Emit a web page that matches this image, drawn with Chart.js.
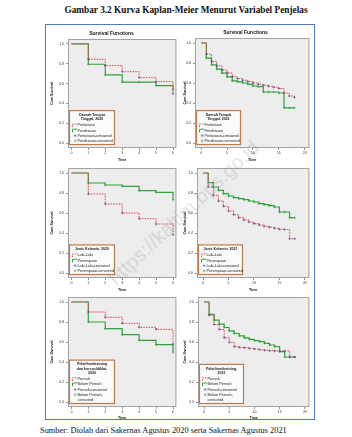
<!DOCTYPE html>
<html>
<head>
<meta charset="utf-8">
<script src="https://cdn.jsdelivr.net/npm/chart.js@4.4.1/dist/chart.umd.min.js"></script>
<style>
  html, body { margin: 0; padding: 0; background: #fff; }
  body { width: 352px; height: 437px; position: relative; overflow: hidden; font-family: "Liberation Sans", Arial, sans-serif; }
  #ttl { position: absolute; left: 0; width: 372px; top: 5px; text-align: center; font: bold 9.3px "Liberation Serif", "Times New Roman", serif; color: #111; white-space: nowrap; }
  #frame { position: absolute; left: 45px; top: 24px; width: 268px; height: 394px; border: 1.5px solid #4f78c8; }
  #src { position: absolute; left: 40px; top: 426px; font: 8.4px "Liberation Serif", "Times New Roman", serif; color: #111; white-space: nowrap; }
  canvas { position: absolute; }
  #wm { position: absolute; left: 112px; top: 270px; font: 20px "Liberation Sans", Arial, sans-serif; color: rgba(110,110,110,0.2);
        transform: rotate(-43.5deg); transform-origin: 0 50%; white-space: nowrap; pointer-events: none; }
</style>
</head>
<body>
<div id="ttl">Gambar 3.2 Kurva Kaplan-Meier Menurut Variabel Penjelas</div>
<div id="frame"></div>
<div id="src">Sumber: Diolah dari Sakernas Agustus 2020 serta Sakernas Agustus 2021</div>
<script>
/* Kaplan-Meier grid: six small step charts, legend box drawn inside each plot. */

// time points (months)
const T2020 = [0, 1, 2, 3, 4, 5, 6];
const T2021 = [0, 1, 2, 3, 4, 5, 6, 7, 8, 9, 10, 11, 12, 13, 14, 15, 16, 17, 18];

// tick labels
const X_TICKS_2020 = [0, 1, 2, 3, 4, 5, 6];
const X_TICKS_2021 = [0, 5, 10, 15, 20];
const Y_TICKS = [0, 0.2, 0.4, 0.6, 0.8, 1.0];

// Daerah tempat tinggal
const kota2020 = [1, 0.846, 0.782, 0.72, 0.66, 0.62, 0.50];
const desa2020 = [1, 0.795, 0.688, 0.614, 0.614, 0.58, 0.537];
const kota2021 = [1, 0.889, 0.815, 0.772, 0.73, 0.70, 0.664, 0.644, 0.628, 0.614, 0.60, 0.587, 0.577, 0.567, 0.557, 0.545, 0.50, 0.47, 0.455];
const desa2021 = [1, 0.849, 0.782, 0.738, 0.698, 0.661, 0.621, 0.611, 0.60, 0.587, 0.57, 0.564, 0.51, 0.51, 0.51, 0.50, 0.352, 0.352, 0.352];

// Jenis kelamin
const laki2020 = [1, 0.79, 0.69, 0.60, 0.543, 0.49, 0.383];
const perem2020 = [1, 0.90, 0.88, 0.867, 0.823, 0.807, 0.733];
const laki2021 = [1, 0.86, 0.777, 0.72, 0.667, 0.62, 0.583, 0.553, 0.53, 0.51, 0.493, 0.48, 0.467, 0.457, 0.447, 0.437, 0.435, 0.343, 0.343];
const perem2021 = [1, 0.903, 0.86, 0.827, 0.793, 0.77, 0.753, 0.743, 0.733, 0.72, 0.71, 0.693, 0.683, 0.673, 0.66, 0.61, 0.61, 0.553, 0.553];

// Pelatihan
const pernah2020 = [1, 0.90, 0.847, 0.787, 0.747, 0.727, 0.58];
const belum2020 = [1, 0.80, 0.733, 0.673, 0.617, 0.573, 0.497];
const pernah2021 = [1, 0.868, 0.775, 0.725, 0.642, 0.596, 0.553, 0.546, 0.543, 0.536, 0.53, 0.523, 0.517, 0.513, 0.51, 0.51, 0.51, 0.45, 0.45];
const belum2021 = [1, 0.877, 0.818, 0.778, 0.745, 0.712, 0.685, 0.662, 0.642, 0.626, 0.613, 0.603, 0.586, 0.57, 0.553, 0.503, 0.45, 0.45, 0.45];

const RED = "#e2474f", GREEN = "#2ea43a", BLUE = "#45459a";
const FAM = "'Liberation Sans', Arial, sans-serif";

// panel placement: canvas box + plot area [left, top, right, bottom]
const PANELS = {
  p1: { x: 46,  y: 24,  w: 135, h: 140, plot: [68, 39, 177, 148],  ytPad: 3.5, head: true },
  p2: { x: 181, y: 24,  w: 133, h: 140, plot: [195, 38, 310, 148], ytPad: 2,   head: true },
  p3: { x: 46,  y: 160, w: 135, h: 134, plot: [68, 168, 177, 278], ytPad: 3.5 },
  p4: { x: 181, y: 160, w: 133, h: 134, plot: [197, 168, 310, 278], ytPad: 2 },
  p5: { x: 46,  y: 289, w: 135, h: 133, plot: [68, 297, 177, 407], ytPad: 3.5 },
  p6: { x: 181, y: 289, w: 133, h: 133, plot: [198, 297, 311, 407], ytPad: 2 }
};

const plotBg = {
  id: "plotBg",
  beforeDraw(c) {
    const a = c.chartArea, ctx = c.ctx;
    ctx.save();
    ctx.fillStyle = "#ededed";
    ctx.fillRect(a.left, a.top, a.width, a.height);
    ctx.strokeStyle = "#a3a3a3"; ctx.lineWidth = 1;
    ctx.strokeRect(a.left + 0.5, a.top + 0.5, a.width - 1, a.height - 1);
    ctx.restore();
  }
};

// SPSS-like legend box in the lower-left corner of the plot
const kmLegend = {
  id: "kmLegend",
  afterDatasetsDraw(c, args, o) {
    const a = c.chartArea, ctx = c.ctx;
    const th = 4.3, lh = 5.2;
    const rows = [];
    c.data.datasets.forEach(d => String(d.label).split("\n").forEach((s, k) => rows.push({ d, s, first: k === 0 })));
    const h = 2 + o.title.length * th + 1.5 + rows.length * lh + 1;
    const x = a.left + 1.5, y = a.bottom - o.bottom - h;
    ctx.save();
    ctx.fillStyle = "#fbfbfb"; ctx.fillRect(x, y, o.width, h);
    ctx.strokeStyle = "#c27a45"; ctx.lineWidth = 1.2; ctx.strokeRect(x, y, o.width, h);
    ctx.fillStyle = "#1a1a1a"; ctx.textAlign = "center"; ctx.textBaseline = "middle";
    ctx.font = "bold 3.6px " + FAM;
    o.title.forEach((s, i) => ctx.fillText(s, x + o.width / 2, y + 2 + th * (i + 0.5)));
    ctx.textAlign = "left"; ctx.font = "3.8px " + FAM;
    rows.forEach((r, i) => {
      const cy = y + 2 + o.title.length * th + 1.5 + lh * (i + 0.5);
      if (r.first) {
        const sx = x + 3;
        ctx.strokeStyle = r.d.borderColor; ctx.lineWidth = r.d.showLine === false ? 0.6 : 1;
        ctx.setLineDash(r.d.borderDash || []);
        ctx.beginPath();
        if (r.d.showLine === false) {
          ctx.moveTo(sx + 2.6, cy - 1.4); ctx.lineTo(sx + 2.6, cy + 1.4);
          ctx.moveTo(sx + 1.2, cy); ctx.lineTo(sx + 4, cy);
        } else {
          ctx.moveTo(sx, cy + 1.8); ctx.lineTo(sx, cy - 1.3); ctx.lineTo(sx + 4.5, cy - 1.3);
        }
        ctx.stroke(); ctx.setLineDash([]);
      }
      ctx.fillStyle = "#1a1a1a";
      ctx.fillText(r.s, x + 8, cy);
    });
    ctx.restore();
  }
};

function step(times, s) { return times.map((t, i) => ({ x: t, y: s[i] })); }
function cens(times, s) { return times.slice(1).map((t, i) => ({ x: t, y: s[i + 1] })); }

function km(id, times, xTicks, xRange, sA, sB, names, legTitle) {
  const p = PANELS[id];
  const cv = document.createElement("canvas");
  cv.id = id; cv.width = p.w; cv.height = p.h;
  cv.style.left = p.x + "px"; cv.style.top = p.y + "px";
  document.body.appendChild(cv);
  const [pl, pt, pr, pb] = p.plot;
  const headH = p.head ? 14 : 0;
  new Chart(cv.getContext("2d"), {
    type: "line",
    data: { datasets: [
      { label: names[0], data: step(times, sA), stepped: true, borderColor: RED, borderDash: [1.6, 1.1], borderWidth: 1, pointRadius: 0, order: 1 },
      { label: names[1], data: step(times, sB), stepped: true, borderColor: GREEN, borderWidth: 1.2, pointRadius: 0, order: 2 },
      { label: names[2], data: cens(times, sA), showLine: false, pointStyle: "cross", pointRadius: 1.2, borderColor: BLUE, borderWidth: 0.6, order: 0 },
      { label: names[3], data: cens(times, sB), showLine: false, pointStyle: "cross", pointRadius: 1.2, borderColor: GREEN, borderWidth: 0.6, order: 0 }
    ] },
    options: {
      responsive: false, animation: false, events: [],
      layout: { padding: { left: 0, right: p.x + p.w - pr, top: pt - p.y - headH, bottom: 0 } },
      plugins: {
        legend: { display: false }, tooltip: { enabled: false },
        title: { display: !!p.head, text: "Survival Functions", color: "#111", font: { family: FAM, size: 5, weight: "bold" }, padding: { top: 6, bottom: 2 } },
        kmLegend: { title: legTitle, width: p.x < 100 ? 45 : 44, bottom: 3.5 }
      },
      scales: {
        x: {
          type: "linear", min: xRange[0], max: xRange[1],
          afterBuildTicks: s => { s.ticks = xTicks.map(v => ({ value: v })); },
          afterFit: s => { s.height = p.y + p.h - pb; },
          grid: { drawOnChartArea: false, tickLength: 2, color: "#666", lineWidth: 0.7 },
          border: { display: false },
          ticks: { font: { family: FAM, size: 3.5 }, color: "#333", padding: 1, maxRotation: 0, autoSkip: false },
          title: { display: true, text: "Time", color: "#111", font: { family: FAM, size: 3.6, weight: "bold" }, padding: { top: 0, bottom: 2 } }
        },
        y: {
          min: -0.05, max: 1.05,
          afterBuildTicks: s => { s.ticks = Y_TICKS.map(v => ({ value: v })); },
          afterFit: s => { s.width = pl - p.x; },
          grid: { drawOnChartArea: false, tickLength: 2, color: "#666", lineWidth: 0.7 },
          border: { display: false },
          ticks: { font: { family: FAM, size: 3.5 }, color: "#333", padding: 2, callback: v => Number(v).toFixed(1) },
          title: { display: true, text: "Cum Survival", color: "#111", font: { family: FAM, size: 3.6, weight: "bold" }, padding: { top: p.ytPad, bottom: 0 } }
        }
      }
    },
    plugins: [plotBg, kmLegend]
  });
}

const R2020 = [-0.2, 6.2], R2021 = [-1.2, 20.9];
km("p1", T2020, X_TICKS_2020, R2020, kota2020, desa2020,
   ["Perkotaan", "Perdesaan", "Perkotaan-censored", "Perdesaan-censored"], ["Daerah Tempat", "Tinggal, 2020"]);
km("p2", T2021, X_TICKS_2021, R2021, kota2021, desa2021,
   ["Perkotaan", "Perdesaan", "Perkotaan-censored", "Perdesaan-censored"], ["Daerah Tempat", "Tinggal, 2021"]);
km("p3", T2020, X_TICKS_2020, R2020, laki2020, perem2020,
   ["Laki-Laki", "Perempuan", "Laki-Laki-censored", "Perempuan-censored"], ["Jenis Kelamin, 2020"]);
km("p4", T2021, X_TICKS_2021, R2021, laki2021, perem2021,
   ["Laki-Laki", "Perempuan", "Laki-Laki-censored", "Perempuan-censored"], ["Jenis Kelamin, 2021"]);
km("p5", T2020, X_TICKS_2020, R2020, pernah2020, belum2020,
   ["Pernah", "Belum Pernah", "Pernah-censored", "Belum Pernah-\ncensored"], ["Pelatihan/training", "dan kursus/diklat,", "2020"]);
km("p6", T2021, X_TICKS_2021, R2021, pernah2021, belum2021,
   ["Pernah", "Belum Pernah", "Pernah-censored", "Belum Pernah-\ncensored"], ["Pelatihan/training,", "2021"]);

const wm = document.createElement("div");
wm.id = "wm"; wm.textContent = "https://kaltim.bps.go.id";
document.body.appendChild(wm);
</script>
</body>
</html>
